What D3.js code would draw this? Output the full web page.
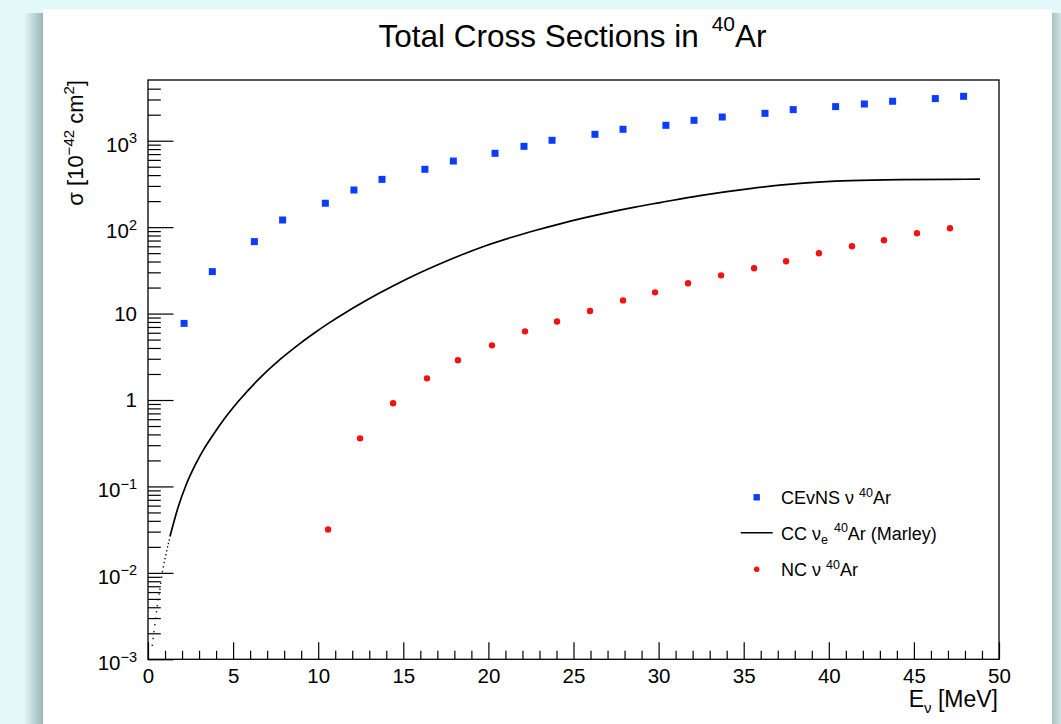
<!DOCTYPE html>
<html>
<head>
<meta charset="utf-8">
<script src="https://cdn.jsdelivr.net/npm/d3@7"></script>
<style>
  html, body { margin: 0; padding: 0; background: #e2f8f9; }
  svg { display: block; }
  text { font-family: "Liberation Sans", Arial, Helvetica, sans-serif; fill: #000; white-space: pre; }
</style>
</head>
<body>
<svg id="chart" width="1061" height="724"></svg>
<script>
// CEvNS on 40Ar (blue squares)
const cevnsE     = [2.12, 3.78, 6.25, 7.91, 10.42, 12.1, 13.75, 16.27, 17.94, 20.39, 22.09, 23.74,
                    26.26, 27.91, 30.43, 32.08, 33.74, 36.25, 37.91, 40.4, 42.09, 43.75, 46.26, 47.92];
const cevnsSigma = [7.7, 30.6, 68, 121, 189, 269, 357, 467, 582, 715, 861, 1011,
                    1186, 1356, 1507, 1722, 1880, 2075, 2290, 2480, 2660, 2860, 3070, 3265];

// NC on 40Ar (red circles)
const ncE     = [10.58, 12.46, 14.4, 16.39, 18.21, 20.21, 22.15, 24.03, 25.97, 27.91,
                 29.79, 31.73, 33.67, 35.61, 37.49, 39.42, 41.36, 43.24, 45.18, 47.12];
const ncSigma = [0.0318, 0.36, 0.916, 1.78, 2.88, 4.29, 6.23, 8.1, 10.7, 14.2,
                 17.6, 22.4, 27.7, 33.4, 40.3, 49.8, 60, 70.4, 84.9, 97];

// CC nu_e on 40Ar (MARLEY): sparse low-energy graph points, drawn as single dots
const ccDotE     = [0.25, 0.30, 0.35, 0.40, 0.45, 0.50, 0.55, 0.60, 0.65, 0.70, 0.75,
                    0.80, 0.85, 0.90, 0.95, 1.00, 1.05, 1.10, 1.15, 1.20, 1.25];
const ccDotSigma = [0.00145, 0.00174, 0.00209, 0.00251, 0.00299, 0.00355, 0.00417, 0.0049, 0.00569,
                    0.00646, 0.00759, 0.00891, 0.01035, 0.01175, 0.01318, 0.01462, 0.01622, 0.01799,
                    0.01995, 0.02188, 0.02399];
// CC nu_e on 40Ar (MARLEY): dense part of the graph, drawn as a continuous curve
const ccLineE     = [1.29, 1.76, 2.23, 2.76, 3.29, 3.76, 4.52, 5.35, 6.52, 7.76, 8.75, 9.69, 10.69,
                     11.69, 12.63, 13.63, 14.51, 15.39, 16.86, 18.33, 19.80, 21.27, 22.74, 24.21,
                     25.68, 27.15, 28.61, 30.08, 32.43, 35.37, 38.31, 41.25, 44.18, 47.12, 48.88];
const ccLineSigma = [0.0263, 0.0567, 0.1031, 0.1747, 0.2718, 0.3782, 0.619, 0.987, 1.754, 2.949,
                     4.238, 5.801, 7.905, 10.51, 13.50, 17.39, 21.41, 26.15, 35.51, 47.0, 60.51,
                     75.27, 91.44, 109.3, 128.6, 149.3, 170.6, 192.3, 231.7, 279.2, 320.7, 344.5,
                     354.8, 357.7, 358.6];

// axis ticks
const xMajorTicks = [0, 5, 10, 15, 20, 25, 30, 35, 40, 45, 50];
const yDecades    = [-3, -2, -1, 0, 1, 2, 3];

const W = 1061, H = 724;
const svg = d3.select("#chart");
const defs = svg.append("defs");

function hGrad(id, c0, c1) {
  const g = defs.append("linearGradient").attr("id", id)
    .attr("x1", 0).attr("x2", 1).attr("y1", 0).attr("y2", 0);
  g.append("stop").attr("offset", 0).attr("stop-color", c0);
  g.append("stop").attr("offset", 1).attr("stop-color", c1);
}
hGrad("shadowL", "#e2f8f9", "#9cb5b6");
hGrad("shadowR", "#a9c0c1", "#cfe4e4");

// page background, drop shadow and white canvas
svg.append("rect").attr("width", W).attr("height", H).attr("fill", "#e2f8f9");
svg.append("rect").attr("x", 24).attr("y", 13).attr("width", 19).attr("height", H).attr("fill", "url(#shadowL)");
svg.append("rect").attr("x", 1052).attr("y", 13).attr("width", 9).attr("height", H).attr("fill", "url(#shadowR)");
svg.append("rect").attr("x", 43).attr("y", 9.5).attr("width", 1009).attr("height", H).attr("fill", "#ffffff");

// frame geometry and scales
const frameL = 148, frameR = 999, frameT = 80, frameB = 659.3;
const x = d3.scaleLinear().domain([0, 50]).range([frameL, frameR]);
const y = d3.scaleLog().domain([1e-3, 5040]).range([frameB, frameT]);

// ticks
const xMinor = d3.range(0, 51).filter(v => v % 5 !== 0);
const yMajor = yDecades.map(e => Math.pow(10, e));
const yMinor = [];
yDecades.forEach(e => { for (let m = 2; m <= 9; m++) { const v = m * Math.pow(10, e); if (v < 5000) yMinor.push(v); } });

function styleAxis(g) {
  g.select(".domain").remove();
  g.selectAll(".tick line").attr("stroke", "#000").attr("stroke-width", 1.2);
}

svg.append("g").attr("transform", `translate(0,${frameB})`)
  .call(d3.axisBottom(x).tickValues(xMinor).tickSize(-8.5).tickFormat(""))
  .call(styleAxis);
const xAx = svg.append("g").attr("transform", `translate(0,${frameB})`)
  .call(d3.axisBottom(x).tickValues(xMajorTicks).tickSize(-17).tickPadding(9).tickFormat(d3.format("d")))
  .call(styleAxis);
xAx.selectAll(".tick text").style("font-size", "20.5px");

svg.append("g").attr("transform", `translate(${frameL},0)`)
  .call(d3.axisLeft(y).tickValues(yMinor).tickSize(-12.8).tickFormat(""))
  .call(styleAxis);
svg.append("g").attr("transform", `translate(${frameL},0)`)
  .call(d3.axisLeft(y).tickValues(yMajor).tickSize(-25.5).tickFormat(""))
  .call(styleAxis);

// y tick labels with exponents
yDecades.forEach(e => {
  const ty = y(Math.pow(10, e));
  const t = svg.append("text").attr("x", 137).attr("text-anchor", "end").style("font-size", "20.5px");
  if (e === 0 || e === 1) {
    t.attr("y", ty + 7.3).text(e === 0 ? "1" : "10");
  } else {
    t.attr("y", ty + 11);
    t.append("tspan").text("10");
    t.append("tspan").attr("dy", -8.6).style("font-size", "14.5px")
      .text(e < 0 ? "\u2212" + Math.abs(e) : String(e));
  }
});

// frame
svg.append("rect").attr("x", frameL).attr("y", frameT).attr("width", frameR - frameL).attr("height", frameB - frameT)
  .attr("fill", "none").attr("stroke", "#000").attr("stroke-width", 1.3);

// title
const title = svg.append("text").attr("x", 572.5).attr("y", 46.7).attr("text-anchor", "middle")
  .style("font-size", "31.5px");
title.append("tspan").text("Total Cross Sections in ");
title.append("tspan").attr("dy", -15.5).attr("dx", 4).style("font-size", "21px").text("40");
title.append("tspan").attr("dy", 15.5).text("Ar");

// y axis title
const yt = svg.append("text").attr("transform", "translate(83,80) rotate(-90)")
  .attr("text-anchor", "end").style("font-size", "22px");
yt.append("tspan").text("\u03c3 [10");
yt.append("tspan").attr("dy", -9).style("font-size", "15px").text("\u221242");
yt.append("tspan").attr("dy", 9).text(" cm");
yt.append("tspan").attr("dy", -9).style("font-size", "15px").text("2");
yt.append("tspan").attr("dy", 9).text("]");

// x axis title
const xt = svg.append("text").attr("x", 998).attr("y", 707).attr("text-anchor", "end").style("font-size", "23px");
xt.append("tspan").text("E");
xt.append("tspan").attr("dy", 6).style("font-size", "15px").text("\u03bd");
xt.append("tspan").attr("dy", -6).text(" [MeV]");

// plot area clip
defs.append("clipPath").attr("id", "plotClip").append("rect")
  .attr("x", frameL).attr("y", frameT).attr("width", frameR - frameL).attr("height", frameB - frameT);
const plot = svg.append("g").attr("clip-path", "url(#plotClip)");

// CC curve
const ccLine = ccLineE.map((e, i) => [e, ccLineSigma[i]]);
plot.append("path").datum(ccLine)
  .attr("d", d3.line().x(d => x(d[0])).y(d => y(d[1])).curve(d3.curveMonotoneX))
  .attr("fill", "none").attr("stroke", "#000").attr("stroke-width", 1.7);
const ccDots = ccDotE.map((e, i) => [e, ccDotSigma[i]]);
plot.selectAll("rect.ccdot").data(ccDots).join("rect").attr("class", "ccdot")
  .attr("x", d => x(d[0]) - 0.7).attr("y", d => y(d[1]) - 0.7)
  .attr("width", 1.4).attr("height", 1.4).attr("fill", "#111");

// CEvNS squares
const blue = "#0b3cff", red = "#f41111";
const sq = 7;
plot.selectAll("rect.cevns").data(cevnsE.map((e, i) => [e, cevnsSigma[i]])).join("rect")
  .attr("class", "cevns")
  .attr("x", d => x(d[0]) - sq / 2).attr("y", d => y(d[1]) - sq / 2)
  .attr("width", sq).attr("height", sq).attr("fill", blue);

// NC circles
plot.selectAll("circle.nc").data(ncE.map((e, i) => [e, ncSigma[i]])).join("circle")
  .attr("class", "nc")
  .attr("cx", d => x(d[0])).attr("cy", d => y(d[1])).attr("r", 3.2).attr("fill", red);

// legend
const lg = svg.append("g");
const lx = 756.7, tx = 781;
const rows = [497.3, 532.7, 569.3];
lg.append("rect").attr("x", lx - 3.2).attr("y", rows[0] - 3.2).attr("width", 6.4).attr("height", 6.4).attr("fill", blue);
lg.append("line").attr("x1", 740.7).attr("x2", 772.7).attr("y1", rows[1]).attr("y2", rows[1])
  .attr("stroke", "#000").attr("stroke-width", 1.5);
lg.append("circle").attr("cx", lx).attr("cy", rows[2]).attr("r", 2.8).attr("fill", red);

function legendText(yy) {
  return lg.append("text").attr("x", tx).attr("y", yy + 7).style("font-size", "18px");
}
const l1 = legendText(rows[0]);
l1.append("tspan").text("CEvNS \u03bd ");
l1.append("tspan").attr("dy", -7.5).style("font-size", "12.5px").text("40");
l1.append("tspan").attr("dy", 7.5).text("Ar");

const l2 = legendText(rows[1]);
l2.append("tspan").text("CC \u03bd");
l2.append("tspan").attr("dy", 4).style("font-size", "12.5px").text("e");
l2.append("tspan").attr("dy", -11.5).attr("dx", 6).style("font-size", "12.5px").text("40");
l2.append("tspan").attr("dy", 7.5).text("Ar (Marley)");

const l3 = legendText(rows[2]);
l3.append("tspan").text("NC \u03bd ");
l3.append("tspan").attr("dy", -7.5).style("font-size", "12.5px").text("40");
l3.append("tspan").attr("dy", 7.5).text("Ar");
</script>
</body>
</html>
